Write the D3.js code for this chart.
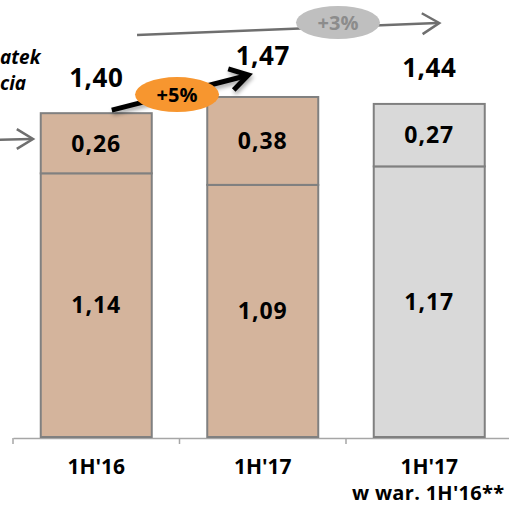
<!DOCTYPE html>
<html>
<head>
<meta charset="utf-8">
<script src="https://cdn.jsdelivr.net/npm/d3@7"></script>
<style>
  html, body { margin: 0; padding: 0; background: #fff; }
  svg { display: block; font-family: "Open Sans", "DejaVu Sans", sans-serif; }
</style>
</head>
<body>
<svg id="chart" width="509" height="505"></svg>
<script>
// Periods and the two stacked components per period
const categories = ["1H'16", "1H'17", "1H'17\nw war. 1H'16**"];
const baseValues = [1.14, 1.09, 1.17];
const topValues = [0.26, 0.38, 0.27];
const totals = [1.40, 1.47, 1.44];
const fills = ["#D4B49C", "#D4B49C", "#D9D9D9"];
const growthLabels = ["+5%", "+3%"];
const sideText = ["atek", "cia"];

const svg = d3.select("#chart");
const baseY = 437;
const fmt = v => d3.format(".2f")(v).replace(".", ",");

const x = d3.scaleBand().domain(categories).range([13, 512.5]).padding(0);
const y = d3.scaleLinear().domain([0, 1.8]).range([baseY, baseY - 1.8 * 231.3]);
const barW = x.bandwidth() * 2 / 3;
const cx = c => x(c) + x.bandwidth() / 2;

const defs = svg.append("defs");
const shadow = defs.append("filter").attr("id", "soft").attr("x", "-20%").attr("y", "-50%").attr("width", "140%").attr("height", "200%");
shadow.append("feGaussianBlur").attr("in", "SourceAlpha").attr("stdDeviation", 2);
shadow.append("feOffset").attr("dx", 1).attr("dy", 3).attr("result", "b");
shadow.append("feComponentTransfer").append("feFuncA").attr("type", "linear").attr("slope", 0.35);
const m = shadow.append("feMerge");
m.append("feMergeNode");
m.append("feMergeNode").attr("in", "SourceGraphic");

// Axis: baseline and category separators
const axis = svg.append("g").attr("transform", `translate(0,${baseY + 1})`)
  .call(d3.axisBottom(x).tickSize(0).tickFormat(""));
axis.select(".domain").attr("stroke", "#A6A6A6").attr("stroke-width", 1.5);
const edges = categories.map(c => x(c));
axis.selectAll(".sep").data(edges).join("line").attr("class", "sep")
  .attr("x1", d => d).attr("x2", d => d).attr("y1", 0).attr("y2", 6)
  .attr("stroke", "#A6A6A6").attr("stroke-width", 1.5);

// Stacked bars
const bars = svg.append("g");
categories.forEach((c, i) => {
  const x0 = cx(c) - barW / 2;
  bars.append("rect").attr("x", x0).attr("width", barW)
    .attr("y", y(baseValues[i])).attr("height", y(0) - y(baseValues[i]))
    .attr("fill", fills[i]).attr("stroke", "#808080").attr("stroke-width", 2);
  bars.append("rect").attr("x", x0).attr("width", barW)
    .attr("y", y(totals[i])).attr("height", y(baseValues[i]) - y(totals[i]))
    .attr("fill", fills[i]).attr("stroke", "#808080").attr("stroke-width", 2);
  bars.append("text").attr("x", cx(c)).attr("y", (y(0) + y(baseValues[i])) / 2)
    .attr("dy", "0.36em").attr("text-anchor", "middle")
    .attr("font-size", 23).attr("font-weight", 700).attr("letter-spacing", 1).attr("fill", "#000")
    .text(fmt(baseValues[i]));
  bars.append("text").attr("x", cx(c)).attr("y", (y(baseValues[i]) + y(totals[i])) / 2)
    .attr("dy", "0.36em").attr("text-anchor", "middle")
    .attr("font-size", 23).attr("font-weight", 700).attr("letter-spacing", 1).attr("fill", "#000")
    .text(fmt(topValues[i]));
});

// Totals above bars
const totalOffset = [26, 32, 27];
categories.forEach((c, i) => {
  svg.append("text").attr("x", cx(c)).attr("y", y(totals[i]) - totalOffset[i])
    .attr("text-anchor", "middle").attr("font-size", 26).attr("font-weight", 700)
    .attr("letter-spacing", 0.5).attr("fill", "#000").text(fmt(totals[i]));
});

// Category labels (second line, where present, as its own text)
categories.forEach(c => {
  const lines = c.split("\n");
  svg.append("text").attr("text-anchor", "middle").attr("x", cx(c)).attr("y", 474)
    .attr("font-size", 21).attr("font-weight", 700).attr("fill", "#000").text(lines[0]);
  if (lines[1]) {
    svg.append("text").attr("text-anchor", "middle").attr("x", cx(c) - 1).attr("y", 500)
      .attr("font-size", 20).attr("font-weight", 700).attr("letter-spacing", 0.3)
      .attr("fill", "#000").text(lines[1]);
  }
});

// Growth arrow between the reported periods
const c0 = categories[0], c1 = categories[1], c2 = categories[2];
const ax1 = cx(c0) + barW * 0.14, ay1 = y(totals[0]) - 3;
const ax2 = cx(c1) - barW / 2 + barW * 0.37, ay2 = y(totals[1]) - 22;
const head = (px, py, a, len, spread) => [
  [px - len * Math.cos(a - spread), py - len * Math.sin(a - spread)],
  [px, py],
  [px - len * Math.cos(a + spread), py - len * Math.sin(a + spread)]
];
const g5 = svg.append("g").attr("filter", "url(#soft)");
g5.append("line").attr("x1", ax1).attr("y1", ay1).attr("x2", ax2 - 3).attr("y2", ay2 + 1)
  .attr("stroke", "#000").attr("stroke-width", 5);
const ang = Math.atan2(ay2 - ay1, ax2 - ax1);
g5.append("path").attr("d", d3.line()(head(ax2, ay2, ang, 21, 0.55)))
  .attr("fill", "none").attr("stroke", "#000").attr("stroke-width", 5)
  .attr("stroke-linejoin", "miter").attr("stroke-linecap", "butt");
const ex = (ax1 + ax2) / 2 - 3, ey = (ay1 + ay2) / 2 + 2;
svg.append("ellipse").attr("cx", ex).attr("cy", ey).attr("rx", 42).attr("ry", 17.5)
  .attr("fill", "#F7962F");
svg.append("text").attr("x", ex).attr("y", ey).attr("dy", "0.36em")
  .attr("text-anchor", "middle").attr("font-size", 20).attr("font-weight", 700)
  .attr("fill", "#000").text(growthLabels[0]);

// Comparable-basis arrow across the top
const gx1 = x(c0) + x.bandwidth() * 0.745, gy1 = 35;
const gx2 = cx(c2) + 10, gy2 = 23;
svg.append("line").attr("x1", gx1).attr("y1", gy1).attr("x2", gx2 - 2).attr("y2", gy2)
  .attr("stroke", "#6F6F6F").attr("stroke-width", 2.5);
const gang = Math.atan2(gy2 - gy1, gx2 - gx1);
svg.append("path").attr("d", d3.line()(head(gx2, gy2, gang, 20, 0.55)))
  .attr("fill", "none").attr("stroke", "#6F6F6F").attr("stroke-width", 2.5);
const gex = x(c2) - 8, gey = 22.5;
svg.append("ellipse").attr("cx", gex).attr("cy", gey).attr("rx", 42).attr("ry", 16.5)
  .attr("fill", "#BFBFBF");
svg.append("text").attr("x", gex).attr("y", gey).attr("dy", "0.36em")
  .attr("text-anchor", "middle").attr("font-size", 20).attr("font-weight", 700)
  .attr("fill", "#8C8C8C").text(growthLabels[1]);

// Side note on the left edge and its pointer
svg.append("text").attr("x", 0).attr("y", 64)
  .attr("font-size", 19).attr("font-weight", 700).attr("font-style", "italic")
  .attr("fill", "#000").text(sideText[0]);
svg.append("text").attr("x", 0).attr("y", 90)
  .attr("font-size", 19).attr("font-weight", 700).attr("font-style", "italic")
  .attr("fill", "#000").text(sideText[1]);
const lx2 = x(c0) + 20, ly = 139;
svg.append("line").attr("x1", -5).attr("y1", ly + 1).attr("x2", lx2 - 2).attr("y2", ly)
  .attr("stroke", "#6F6F6F").attr("stroke-width", 2.5);
svg.append("path").attr("d", d3.line()(head(lx2, ly, 0, 19, 0.55)))
  .attr("fill", "none").attr("stroke", "#6F6F6F").attr("stroke-width", 2.5);
</script>
</body>
</html>
